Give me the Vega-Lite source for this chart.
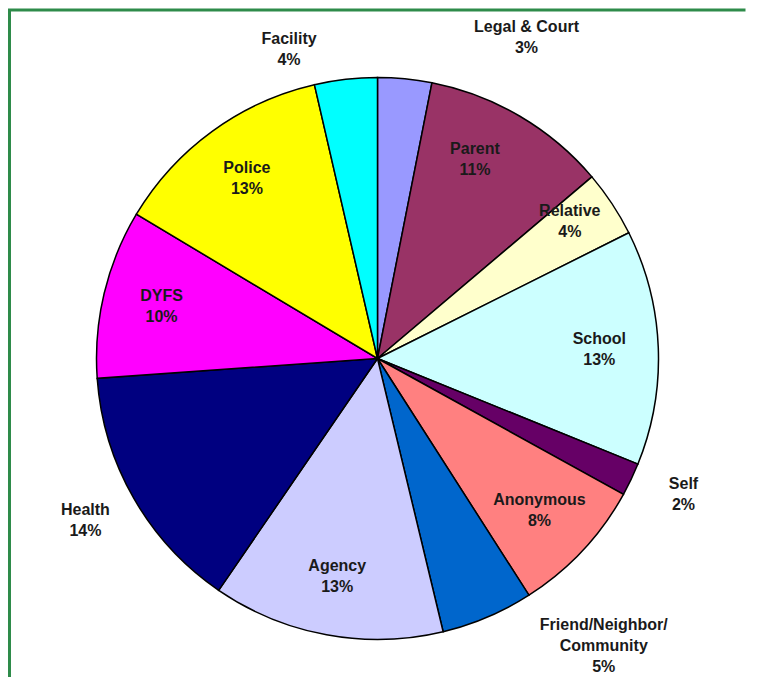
{
  "$schema": "https://vega.github.io/schema/vega-lite/v6.json",
  "autosize": "none",
  "width": 736,
  "height": 697,
  "padding": {"left": 9.5, "top": 10, "right": 33.5, "bottom": -30},
  "background": "white",
  "view": {"stroke": "#2E8B4A", "strokeWidth": 3, "strokeDash": [736, 1433, 697]},
  "config": {
    "view": {"stroke": "#2E8B4A", "strokeWidth": 3, "strokeDash": [736, 1433, 697]},
    "text": {"font": "Liberation Sans", "fontWeight": "bold", "fontSize": 16, "lineHeight": 21, "fill": "#1a1a1a", "align": "center", "baseline": "middle", "dy": -10.5}
  },
  "data": {
    "values": [
      {"n": 1, "source": "Legal & Court", "value": 3.1, "label": ["Legal & Court", "3%"]},
      {"n": 2, "source": "Parent", "value": 10.7, "label": ["Parent", "11%"]},
      {"n": 3, "source": "Relative", "value": 3.8, "label": ["Relative", "4%"]},
      {"n": 4, "source": "School", "value": 13.5, "label": ["School", "13%"]},
      {"n": 5, "source": "Self", "value": 1.9, "label": ["Self", "2%"]},
      {"n": 6, "source": "Anonymous", "value": 7.9, "label": ["Anonymous", "8%"]},
      {"n": 7, "source": "Friend/Neighbor/Community", "value": 5.3, "label": ["Friend/Neighbor/", "Community", "5%"]},
      {"n": 8, "source": "Agency", "value": 13.3, "label": ["Agency", "13%"]},
      {"n": 9, "source": "Health", "value": 14.3, "label": ["Health", "14%"]},
      {"n": 10, "source": "DYFS", "value": 9.7, "label": ["DYFS", "10%"]},
      {"n": 11, "source": "Police", "value": 12.8, "label": ["Police", "13%"]},
      {"n": 12, "source": "Facility", "value": 3.6, "label": ["Facility", "4%"]}
    ]
  },
  "encoding": {
    "theta": {"field": "value", "type": "quantitative", "stack": true},
    "order": {"field": "n", "type": "quantitative"}
  },
  "layer": [
    {
      "mark": {"type": "arc", "radius": 281, "stroke": "#000000", "strokeWidth": 1.5},
      "encoding": {
        "color": {
          "field": "source",
          "type": "nominal",
          "legend": null,
          "scale": {
            "domain": ["Legal & Court", "Parent", "Relative", "School", "Self", "Anonymous", "Friend/Neighbor/Community", "Agency", "Health", "DYFS", "Police", "Facility"],
            "range": ["#9999FF", "#993366", "#FFFFCC", "#CCFFFF", "#660066", "#FF8080", "#0066CC", "#CCCCFF", "#000080", "#FF00FF", "#FFFF00", "#00FFFF"]
          }
        }
      }
    },
    {
      "mark": {"type": "text", "radius": 222},
      "encoding": {
        "text": {"condition": {"test": "indexof(['Legal & Court','Facility','Self','Friend/Neighbor/Community','Health','Parent','Relative'], datum.source) < 0", "field": "label"}, "value": ""}
      }
    },
    {
      "mark": {"type": "text", "radius": 222, "thetaOffset": -0.077},
      "encoding": {"text": {"condition": {"test": "datum.source === 'Parent'", "field": "label"}, "value": ""}}
    },
    {
      "mark": {"type": "text", "radius": 236, "thetaOffset": -0.035},
      "encoding": {"text": {"condition": {"test": "datum.source === 'Relative'", "field": "label"}, "value": ""}}
    },
    {
      "mark": {"type": "text", "radius": 354, "thetaOffset": 0.337},
      "encoding": {"text": {"condition": {"test": "datum.source === 'Legal & Court'", "field": "label"}, "value": ""}}
    },
    {
      "mark": {"type": "text", "radius": 321, "thetaOffset": -0.166},
      "encoding": {"text": {"condition": {"test": "datum.source === 'Facility'", "field": "label"}, "value": ""}}
    },
    {
      "mark": {"type": "text", "radius": 335, "thetaOffset": -0.026},
      "encoding": {"text": {"condition": {"test": "datum.source === 'Self'", "field": "label"}, "value": ""}}
    },
    {
      "mark": {"type": "text", "radius": 366, "thetaOffset": -0.264, "dy": -21},
      "encoding": {"text": {"condition": {"test": "datum.source === 'Friend/Neighbor/Community'", "field": "label"}, "value": ""}}
    },
    {
      "mark": {"type": "text", "radius": 334, "thetaOffset": 0.014},
      "encoding": {"text": {"condition": {"test": "datum.source === 'Health'", "field": "label"}, "value": ""}}
    }
  ]
}
